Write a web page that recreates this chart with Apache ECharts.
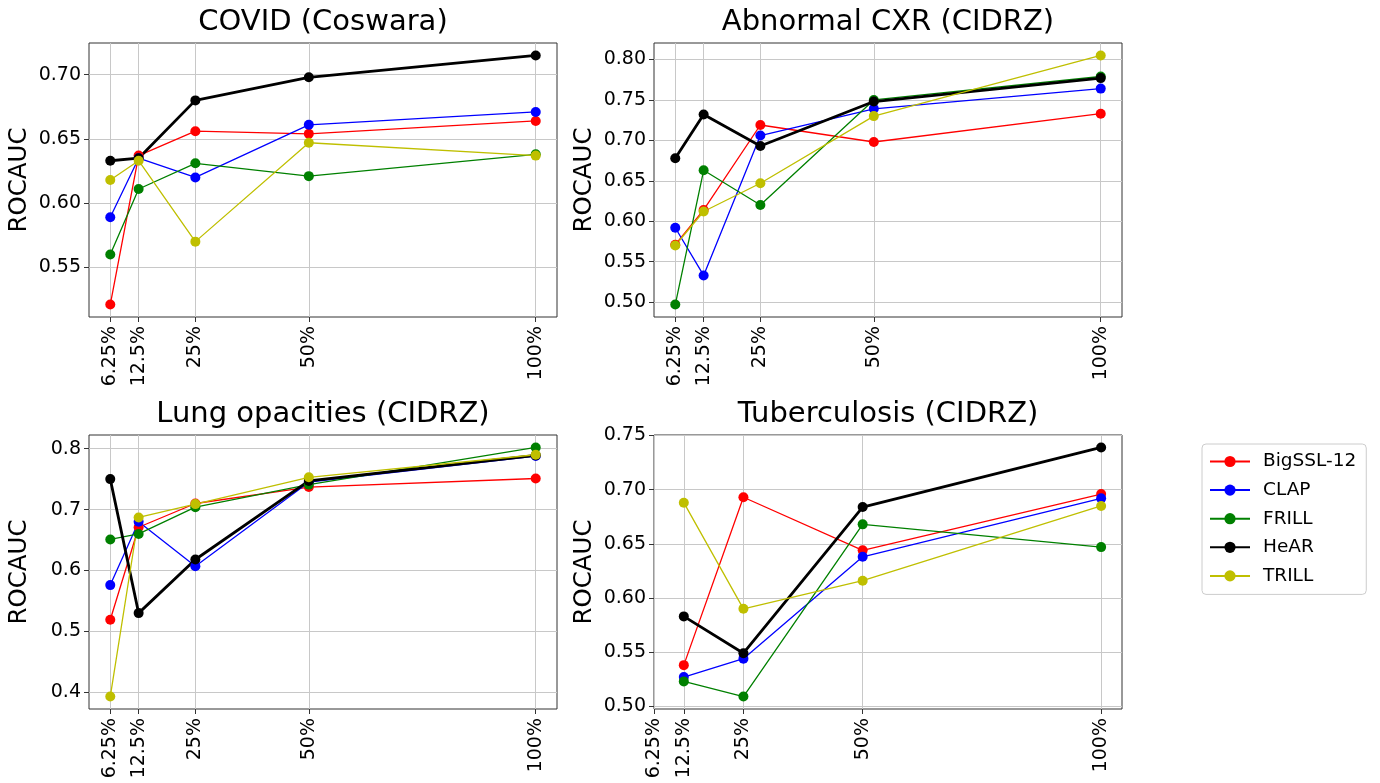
<!DOCTYPE html>
<html lang="en">
<head>
    <meta charset="UTF-8">
    <title>ROCAUC vs training fraction</title>
    <script src="https://cdn.jsdelivr.net/npm/echarts@6/dist/echarts.min.js"></script>
    <style>
        html, body { margin: 0; padding: 0; background: #fff; }
        #chart { width: 1380px; height: 783px; }
    </style>
</head>
<body>
    <div id="chart"></div>

    <script>
        // training fraction (%) on the x axis
        const fractions = [6.25, 12.5, 25, 50, 100];
        const tbFractions = [12.5, 25, 50, 100];   // tuberculosis has no 6.25% run
        const models = ['BigSSL-12', 'CLAP', 'FRILL', 'HeAR', 'TRILL'];

        // ROCAUC per model (same order as models)
        const covidRoc = [
            [0.521, 0.637, 0.656, 0.654, 0.664],
            [0.589, 0.635, 0.620, 0.661, 0.671],
            [0.560, 0.611, 0.631, 0.621, 0.638],
            [0.633, 0.635, 0.680, 0.698, 0.715],
            [0.618, 0.633, 0.570, 0.647, 0.637]
        ];
        const cxrRoc = [
            [0.571, 0.614, 0.719, 0.698, 0.733],
            [0.592, 0.533, 0.706, 0.739, 0.764],
            [0.497, 0.663, 0.620, 0.750, 0.779],
            [0.678, 0.732, 0.693, 0.748, 0.777],
            [0.570, 0.612, 0.647, 0.730, 0.805]
        ];
        const lungRoc = [
            [0.519, 0.671, 0.710, 0.737, 0.751],
            [0.576, 0.680, 0.607, 0.745, 0.788],
            [0.651, 0.660, 0.704, 0.741, 0.802],
            [0.750, 0.530, 0.618, 0.747, 0.789],
            [0.393, 0.687, 0.709, 0.753, 0.790]
        ];
        const tbRoc = [
            [0.538, 0.693, 0.644, 0.696],
            [0.527, 0.544, 0.638, 0.692],
            [0.523, 0.509, 0.668, 0.647],
            [0.583, 0.549, 0.684, 0.739],
            [0.688, 0.590, 0.616, 0.685]
        ];

        // tick labels
        const xTicks = [6.25, 12.5, 25, 50, 100];
        const covidTicks = [0.55, 0.60, 0.65, 0.70];
        const cxrTicks = [0.50, 0.55, 0.60, 0.65, 0.70, 0.75, 0.80];
        const lungTicks = [0.4, 0.5, 0.6, 0.7, 0.8];
        const tbTicks = [0.50, 0.55, 0.60, 0.65, 0.70, 0.75];

        const titles = ['COVID (Coswara)', 'Abnormal CXR (CIDRZ)', 'Lung opacities (CIDRZ)', 'Tuberculosis (CIDRZ)'];

        const colors = ['#ff0000', '#0000ff', '#008000', '#000000', '#bfbf00'];
        const FONT = 'DejaVu Sans';

        const panels = [
            { x: fractions, y: covidRoc, ticks: covidTicks, digits: 2, left: 89, top: 43 },
            { x: fractions, y: cxrRoc, ticks: cxrTicks, digits: 2, left: 654, top: 43 },
            { x: fractions, y: lungRoc, ticks: lungTicks, digits: 1, left: 89, top: 435 },
            { x: tbFractions, y: tbRoc, ticks: tbTicks, digits: 2, left: 654, top: 435 }
        ];
        const W = 468, H = 274;

        // matplotlib-like 5% margins
        function pad(lo, hi) {
            const m = (hi - lo) * 0.05;
            return [lo - m, hi + m];
        }

        const grid = [], xAxis = [], yAxis = [], series = [], title = [];

        panels.forEach((p, i) => {
            grid.push({
                left: p.left, top: p.top, width: W, height: H,
                show: true, borderColor: '#333', borderWidth: 1, backgroundColor: 'transparent'
            });
            title.push({
                text: titles[i], left: p.left + W / 2, top: p.top - 35, textAlign: 'center', padding: 0,
                textStyle: { fontFamily: FONT, fontSize: 29, fontWeight: 'normal', color: '#000' }
            });

            const xr = pad(Math.min(...p.x), Math.max(...p.x));
            const xmin = Math.min(xr[0], Math.min(...xTicks));
            xAxis.push({
                type: 'value', gridIndex: i, min: xmin, max: xr[1],
                axisLine: { show: false },
                axisTick: { show: true, customValues: xTicks, length: 5, lineStyle: { color: '#333' } },
                axisLabel: {
                    customValues: xTicks, rotate: 90, margin: 9,
                    fontFamily: FONT, fontSize: 19, color: '#000',
                    formatter: v => v + '%'
                },
                splitLine: { show: true, lineStyle: { color: '#c8c8c8', width: 1 } }
            });

            const all = p.y.flat();
            const yr = pad(Math.min(...all), Math.max(...all));
            yAxis.push({
                type: 'value', gridIndex: i, min: yr[0], max: yr[1],
                name: 'ROCAUC', nameLocation: 'middle', nameRotate: 90, nameGap: 57,
                nameTextStyle: { fontFamily: FONT, fontSize: 24.5, color: '#000' },
                axisLine: { show: false },
                axisTick: { show: true, customValues: p.ticks, length: 5, lineStyle: { color: '#333' } },
                axisLabel: {
                    customValues: p.ticks, margin: 8,
                    fontFamily: FONT, fontSize: 19, color: '#000',
                    formatter: v => v.toFixed(p.digits)
                },
                splitLine: { show: true, lineStyle: { color: '#c8c8c8', width: 1 } }
            });

            models.forEach((m, k) => {
                series.push({
                    name: m, type: 'line', xAxisIndex: i, yAxisIndex: i,
                    data: p.x.map((x, j) => [x, p.y[k][j]]),
                    symbol: 'circle', symbolSize: 10,
                    itemStyle: { color: colors[k] },
                    lineStyle: { color: colors[k], width: m === 'HeAR' ? 2.8 : 1.3 },
                    emphasis: { disabled: true },
                    animation: false
                });
            });
        });

        const chart = echarts.init(document.getElementById('chart'));
        chart.setOption({
            animation: false,
            title: title,
            grid: grid,
            xAxis: xAxis,
            yAxis: yAxis,
            legend: {
                data: models, orient: 'vertical', left: 1202, top: 444,
                padding: [8, 10, 9, 7], itemGap: 9.6, itemWidth: 40, itemHeight: 14,
                borderColor: '#cccccc', borderWidth: 1, borderRadius: 4,
                textStyle: { fontFamily: FONT, fontSize: 18.5, color: '#000', padding: [0, 0, 0, 8] }
            },
            series: series
        });
    </script>
</body>
</html>
